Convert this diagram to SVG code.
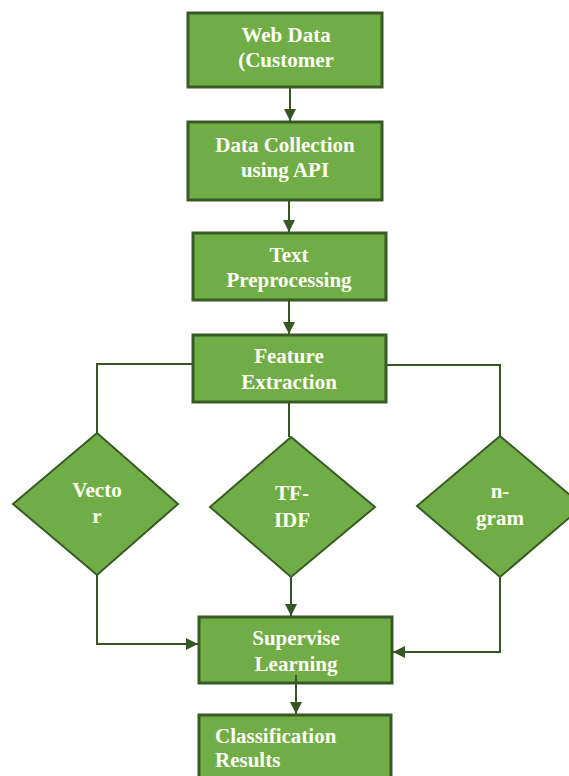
<svg xmlns="http://www.w3.org/2000/svg" width="569" height="776" viewBox="0 0 569 776">
  <style>
    .box { fill: #70ad47; stroke: #385a24; stroke-width: 3; }
    .dia { fill: #70ad47; stroke: #385a24; stroke-width: 2; }
    .lbl { font-family: "Liberation Serif", "Times New Roman", serif; font-weight: bold; font-size: 21px; fill: #fffff4; text-anchor: middle; }
    .left { text-anchor: start; }
    .wire { fill: none; stroke: #375623; stroke-width: 2; }
  </style>
  <defs>
    <marker id="arrow" viewBox="0 0 10 10" refX="10" refY="5" markerWidth="12" markerHeight="12" markerUnits="userSpaceOnUse" orient="auto">
      <path d="M0,0 L10,5 L0,10 Z" fill="#375623"/>
    </marker>
  </defs>
  <rect width="569" height="776" fill="#ffffff"/>

  <g id="web-data">
    <rect class="box" x="188" y="13" width="194" height="74"/>
    <text class="lbl" x="286" y="42">Web Data</text>
    <text class="lbl" x="286" y="67">(Customer</text>
  </g>
  <g id="data-collection">
    <rect class="box" x="188" y="122" width="194" height="78"/>
    <text class="lbl" x="285" y="152">Data Collection</text>
    <text class="lbl" x="285" y="177">using API</text>
  </g>
  <g id="text-preprocessing">
    <rect class="box" x="193" y="233" width="193" height="67"/>
    <text class="lbl" x="289" y="262">Text</text>
    <text class="lbl" x="289" y="287">Preprocessing</text>
  </g>
  <g id="feature-extraction">
    <rect class="box" x="193" y="335" width="193" height="67"/>
    <text class="lbl" x="289" y="363">Feature</text>
    <text class="lbl" x="289" y="389">Extraction</text>
  </g>
  <g id="vector">
    <polygon class="dia" points="97,433 178,504 97,575 13,504"/>
    <text class="lbl" x="97" y="497">Vecto</text>
    <text class="lbl" x="97" y="523">r</text>
  </g>
  <g id="tf-idf">
    <polygon class="dia" points="291,437 375,507 291,577 210,507"/>
    <text class="lbl" x="292" y="500">TF-</text>
    <text class="lbl" x="292" y="527">IDF</text>
  </g>
  <g id="n-gram">
    <polygon class="dia" points="500,436 583,506 500,577 417,506"/>
    <text class="lbl" x="500" y="498">n-</text>
    <text class="lbl" x="500" y="525">gram</text>
  </g>
  <g id="supervise-learning">
    <rect class="box" x="199" y="617" width="193" height="66"/>
    <text class="lbl" x="296" y="645">Supervise</text>
    <text class="lbl" x="296" y="671">Learning</text>
  </g>
  <g id="classification-results">
    <rect class="box" x="199" y="715" width="192" height="70"/>
    <text class="lbl left" x="215" y="743">Classification</text>
    <text class="lbl left" x="215" y="767">Results</text>
  </g>

  <g id="connectors">
    <path class="wire" d="M290,87 V121" marker-end="url(#arrow)"/>
    <path class="wire" d="M289,200 V232" marker-end="url(#arrow)"/>
    <path class="wire" d="M289,300 V334" marker-end="url(#arrow)"/>
    <path class="wire" d="M289,402 V437"/>
    <path class="wire" d="M193,364 H97 V433"/>
    <path class="wire" d="M386,365 H500 V436"/>
    <path class="wire" d="M97,575 V644 H198" marker-end="url(#arrow)"/>
    <path class="wire" d="M291,577 V616" marker-end="url(#arrow)"/>
    <path class="wire" d="M500,577 V652 H393" marker-end="url(#arrow)"/>
    <path class="wire" d="M296,675 V714" marker-end="url(#arrow)"/>
  </g>
</svg>
